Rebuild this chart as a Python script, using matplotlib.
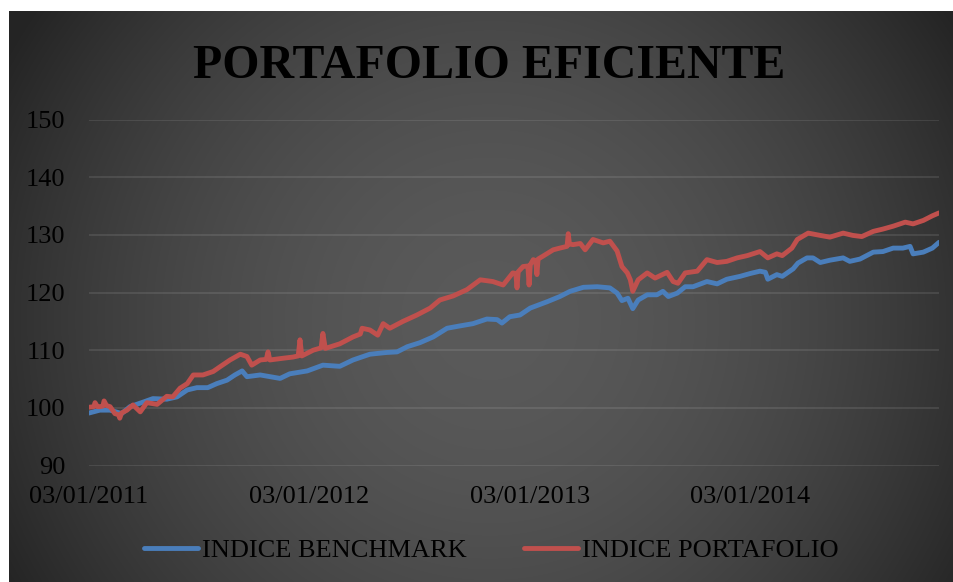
import numpy as np
import pandas as pd
import matplotlib
matplotlib.use("Agg")
import matplotlib.pyplot as plt
import matplotlib.dates as mdates

# ---------------- data ----------------
title = "PORTAFOLIO EFICIENTE"
series_names = ["INDICE BENCHMARK", "INDICE PORTAFOLIO"]
x_ticks = ["2011-01-03", "2012-01-03", "2013-01-03", "2014-01-03"]
x_tick_labels = ["03/01/2011", "03/01/2012", "03/01/2013", "03/01/2014"]
y_ticks = [90, 100, 110, 120, 130, 140, 150]

bench_dates = [
    "2011-01-03", "2011-01-21", "2011-02-07", "2011-02-26", "2011-03-12", "2011-04-03",
    "2011-04-19", "2011-05-12", "2011-05-29", "2011-06-15", "2011-07-01", "2011-07-19",
    "2011-08-03", "2011-08-20", "2011-09-02", "2011-09-14", "2011-09-22", "2011-10-14",
    "2011-11-16", "2011-12-02", "2011-12-31", "2012-01-26", "2012-02-23", "2012-03-16",
    "2012-04-13", "2012-05-11", "2012-05-28", "2012-06-14", "2012-07-05", "2012-07-27",
    "2012-08-19", "2012-09-09", "2012-10-01", "2012-10-24", "2012-11-10", "2012-11-18",
    "2012-12-01", "2012-12-18", "2013-01-04", "2013-02-01", "2013-02-22", "2013-03-11",
    "2013-04-02", "2013-04-25", "2013-05-16", "2013-05-28", "2013-06-05", "2013-06-15",
    "2013-06-23", "2013-07-02", "2013-07-17", "2013-08-02", "2013-08-12", "2013-08-21",
    "2013-09-05", "2013-09-18", "2013-10-01", "2013-10-24", "2013-11-10", "2013-11-26",
    "2013-12-18", "2014-01-04", "2014-01-20", "2014-01-29", "2014-02-02", "2014-02-17",
    "2014-02-26", "2014-03-16", "2014-03-24", "2014-04-08", "2014-04-18", "2014-04-30",
    "2014-05-16", "2014-06-07", "2014-06-18", "2014-07-05", "2014-07-27", "2014-08-12",
    "2014-08-29", "2014-09-14", "2014-09-26", "2014-10-01", "2014-10-18", "2014-11-02",
    "2014-11-13",
]
bench_values = [
    99.1, 99.6, 99.6, 99.0, 100.2, 101.0,
    101.6, 101.5, 101.9, 103.1, 103.5, 103.5,
    104.2, 104.8, 105.7, 106.4, 105.4, 105.7,
    105.1, 105.9, 106.4, 107.4, 107.2, 108.3,
    109.3, 109.6, 109.7, 110.6, 111.3, 112.3,
    113.8, 114.2, 114.6, 115.4, 115.3, 114.7,
    115.8, 116.1, 117.3, 118.4, 119.3, 120.2,
    120.9, 121.0, 120.8, 119.9, 118.6, 119.0,
    117.2, 118.7, 119.6, 119.6, 120.2, 119.3,
    119.9, 121.0, 121.0, 121.9, 121.5, 122.3,
    122.8, 123.3, 123.7, 123.5, 122.3, 123.1,
    122.8, 124.1, 125.1, 126.0, 126.0, 125.2,
    125.6, 126.0, 125.4, 125.8, 127.0, 127.1,
    127.7, 127.7, 128.0, 126.7, 127.0, 127.7,
    128.7,
]

port_dates = [
    "2011-01-03", "2011-01-11", "2011-01-13", "2011-01-17", "2011-01-21", "2011-01-26",
    "2011-01-28", "2011-02-01", "2011-02-07", "2011-02-15", "2011-02-21", "2011-02-23",
    "2011-02-26", "2011-03-07", "2011-03-17", "2011-03-29", "2011-04-09", "2011-04-26",
    "2011-05-12", "2011-05-22", "2011-06-03", "2011-06-15", "2011-06-25", "2011-07-11",
    "2011-07-28", "2011-08-08", "2011-08-25", "2011-09-11", "2011-09-22", "2011-09-30",
    "2011-10-14", "2011-10-24", "2011-10-27", "2011-10-30", "2011-11-21", "2011-12-07",
    "2011-12-16", "2011-12-19", "2011-12-22", "2012-01-10", "2012-01-23", "2012-01-26",
    "2012-01-30", "2012-02-23", "2012-03-16", "2012-03-28", "2012-03-31", "2012-04-13",
    "2012-04-26", "2012-05-05", "2012-05-16", "2012-06-07", "2012-06-30", "2012-07-22",
    "2012-08-07", "2012-08-29", "2012-09-21", "2012-10-13", "2012-11-03", "2012-11-20",
    "2012-12-06", "2012-12-11", "2012-12-13", "2012-12-15", "2012-12-23", "2012-12-31",
    "2013-01-02", "2013-01-04", "2013-01-09", "2013-01-13", "2013-01-15", "2013-01-17",
    "2013-01-25", "2013-02-11", "2013-02-22", "2013-03-06", "2013-03-08", "2013-03-10",
    "2013-03-16", "2013-03-28", "2013-04-05", "2013-04-18", "2013-05-05", "2013-05-16",
    "2013-05-28", "2013-06-05", "2013-06-14", "2013-06-19", "2013-06-23", "2013-07-02",
    "2013-07-17", "2013-07-30", "2013-08-19", "2013-08-29", "2013-09-06", "2013-09-18",
    "2013-10-08", "2013-10-24", "2013-11-10", "2013-11-26", "2013-12-13", "2013-12-30",
    "2014-01-20", "2014-02-02", "2014-02-17", "2014-02-26", "2014-03-14", "2014-03-23",
    "2014-04-10", "2014-04-30", "2014-05-16", "2014-06-07", "2014-06-23", "2014-07-08",
    "2014-07-27", "2014-08-12", "2014-08-29", "2014-09-18", "2014-10-01", "2014-10-18",
    "2014-11-02", "2014-11-13",
]
port_values = [
    100.1, 100.2, 100.9, 100.2, 100.2, 100.3,
    101.2, 100.4, 100.2, 99.0, 98.8, 98.2,
    99.1, 99.6, 100.5, 99.3, 100.9, 100.6,
    102.0, 101.9, 103.4, 104.2, 105.7, 105.7,
    106.3, 107.1, 108.3, 109.3, 108.9, 107.4,
    108.3, 108.4, 109.7, 108.3, 108.6, 108.8,
    109.0, 111.8, 109.0, 110.0, 110.4, 112.9,
    110.3, 111.1, 112.3, 112.8, 113.8, 113.5,
    112.6, 114.6, 113.8, 115.0, 116.1, 117.3,
    118.7, 119.4, 120.5, 122.2, 121.9, 121.3,
    123.4, 123.3, 120.8, 123.6, 124.5, 124.6,
    121.3, 124.8, 125.7, 125.5, 123.1, 125.8,
    126.3, 127.4, 127.7, 128.0, 130.2, 128.4,
    128.3, 128.5, 127.4, 129.2, 128.6, 128.9,
    127.2, 124.5, 123.4, 122.2, 120.2, 122.2,
    123.4, 122.5, 123.5, 121.9, 121.6, 123.4,
    123.7, 125.7, 125.2, 125.4, 126.0, 126.4,
    127.1, 126.0, 126.7, 126.4, 127.7, 129.2,
    130.3, 129.9, 129.6, 130.3, 129.9, 129.7,
    130.6, 131.0, 131.5, 132.2, 131.9, 132.5,
    133.3, 133.8,
]

# ---------------- figure ----------------
W, H = 954, 582
fig = plt.figure(figsize=(W / 100, H / 100), dpi=100, facecolor="white")

# radial gradient background of the chart area
bx0, by0 = 9, 11
bg = fig.add_axes([bx0 / W, 0, (W - bx0) / W, (H - by0) / H])
bg.set_axis_off()
xs = np.arange(bx0, W) + 0.5
ys = np.arange(by0, H) + 0.5
X, Y = np.meshgrid(xs, ys)
r = np.sqrt(((X - 490) / 400.0) ** 2 + ((Y - 320) / 397.0) ** 2)
val = 90 - 30 * r ** 1.8
val = np.clip(val, 36, 255) / 255.0
rgb = np.dstack([val, val, val])
bg.imshow(rgb, aspect="auto", origin="upper", interpolation="bilinear")
bg.set_zorder(-5)

serif = ["Liberation Serif", "DejaVu Serif"]

ax_left, ax_right = 89, 939
ax_top, ax_bot = 119.5, 465.5
ax = fig.add_axes([ax_left / W, 1 - ax_bot / H, (ax_right - ax_left) / W, (ax_bot - ax_top) / H])
ax.patch.set_alpha(0)

bd = pd.to_datetime(bench_dates)
pdt = pd.to_datetime(port_dates)
LW = 3.5
l1, = ax.plot(bd, bench_values, color="#4A7EBB", lw=LW, solid_joinstyle="round",
              solid_capstyle="round", label=series_names[0], zorder=3)
l2, = ax.plot(pdt, port_values, color="#C0504D", lw=LW, solid_joinstyle="round",
              solid_capstyle="round", label=series_names[1], zorder=4)

ax.set_ylim(90, 150)
ax.set_yticks(y_ticks)
ax.set_xlim(pd.Timestamp(bench_dates[0]), pd.Timestamp(bench_dates[-1]))
ax.set_xticks(pd.to_datetime(x_ticks))
ax.set_xticklabels(x_tick_labels)
for s in ax.spines.values():
    s.set_visible(False)
ax.grid(axis="y", color="white", alpha=0.12, lw=1.1)
ax.grid(axis="x", visible=False)
ax.tick_params(axis="both", length=0, labelsize=19, colors="black")
ax.tick_params(axis="y", pad=17)
ax.tick_params(axis="x", pad=15)
for lab in ax.get_xticklabels() + ax.get_yticklabels():
    lab.set_family(serif)

fig.text((193 + 785) / 2 / W, 1 - 78 / H, title, ha="center", va="baseline",
         fontsize=34.5, fontweight="bold", family=serif, color="black")

leg = fig.legend(handles=[l1, l2], loc="center", bbox_to_anchor=(0.515, 1 - 550 / H),
                 ncol=2, frameon=False, prop={"family": serif, "size": 19},
                 handlelength=2.05, handletextpad=0.15, columnspacing=2.15)
for t in leg.get_texts():
    t.set_color("black")
for h in leg.legend_handles:
    h.set_linewidth(LW)

fig.savefig("out.png", dpi=100, facecolor="white")
